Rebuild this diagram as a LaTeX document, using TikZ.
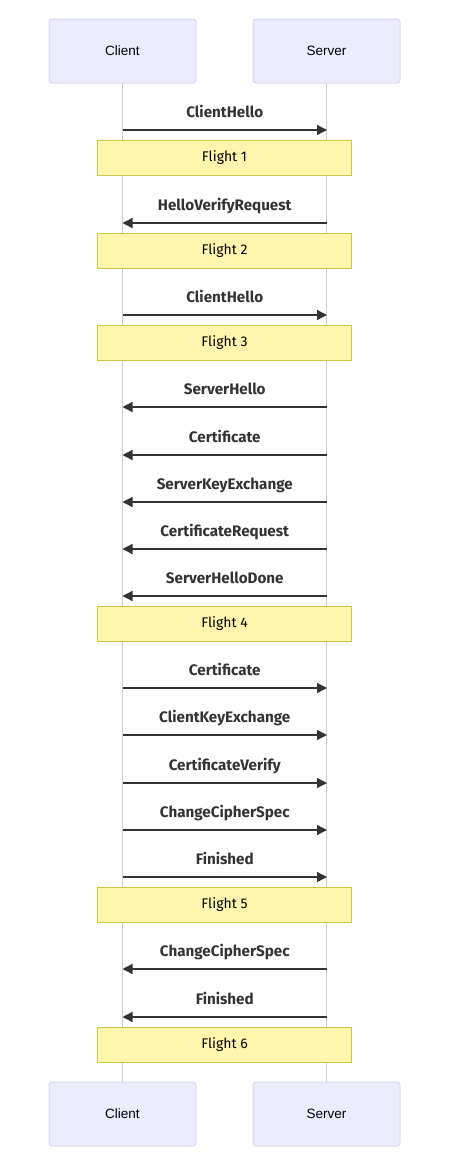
\documentclass[tikz,border=0pt]{standalone}
\usepackage{fontspec}
\setmainfont{Liberation Sans}
\newfontfamily\msgfont{Fira Sans}
\usetikzlibrary{positioning,arrows.meta}
\definecolor{actorfill}{HTML}{ECECFF}
\definecolor{actorline}{HTML}{DCD6F7}
\definecolor{notefill}{HTML}{FFF5AD}
\definecolor{noteline}{HTML}{C8C850}
\definecolor{lifeline}{HTML}{CCCCCC}
\definecolor{msgline}{HTML}{333333}
\tikzstyle{actor} = [draw=actorline, fill=actorfill, line width=1pt, rounded corners=3pt, minimum width=147pt, minimum height=64pt, font=\fontsize{13.5}{16}\selectfont]
\tikzstyle{flight} = [draw=noteline, fill=notefill, line width=1pt, minimum width=254pt, minimum height=35pt, font=\msgfont\fontsize{14}{16}\selectfont]
\tikzstyle{life} = [draw=lifeline, line width=1pt]
\tikzstyle{msg} = [draw=msgline, line width=1.3pt, -{Triangle[length=10pt,width=10pt]}]
\tikzstyle{msglabel} = [font=\msgfont\bfseries\fontsize{15.2}{17}\selectfont, text=msgline, inner sep=0pt, text depth=0pt, above=11.5pt]

\begin{document}
\begin{tikzpicture}[x=1pt, y=-1pt]
    \useasboundingbox (0,0) rectangle (458,1157);
    \node[actor] (client) at (122.5,51) {Client};
    \node[actor] (server) at (326.5,51) {Server};
    \node[actor] (clientB) at (122.5,1114) {Client};
    \node[actor] (serverB) at (326.5,1114) {Server};
    \draw[life] (client.south) -- (clientB.north);
    \draw[life] (server.south) -- (serverB.north);
    % messages, c = client, s = server
    \foreach \y/\from/\to/\txt in {130/c/s/ClientHello, 223/s/c/HelloVerifyRequest, 315/c/s/ClientHello,
            407/s/c/ServerHello, 455/s/c/Certificate, 502/s/c/ServerKeyExchange, 549/s/c/CertificateRequest,
            596/s/c/ServerHelloDone, 688/c/s/Certificate, 735/c/s/ClientKeyExchange, 783/c/s/CertificateVerify,
            830/c/s/ChangeCipherSpec, 877/c/s/Finished, 969/s/c/ChangeCipherSpec, 1017/s/c/Finished} {
        \coordinate (c\y) at (122.5,\y);
        \coordinate (s\y) at (327,\y);
        \draw[msg] (\from\y) -- node[msglabel] {\txt} (\to\y);
    }
    % flights
    \foreach \y/\n in {158/1, 250.5/2, 342.5/3, 623.5/4, 904.5/5, 1044.5/6}
        \node[flight] (flight\n) at (224.5,\y) {Flight \n};
\end{tikzpicture}
\end{document}
